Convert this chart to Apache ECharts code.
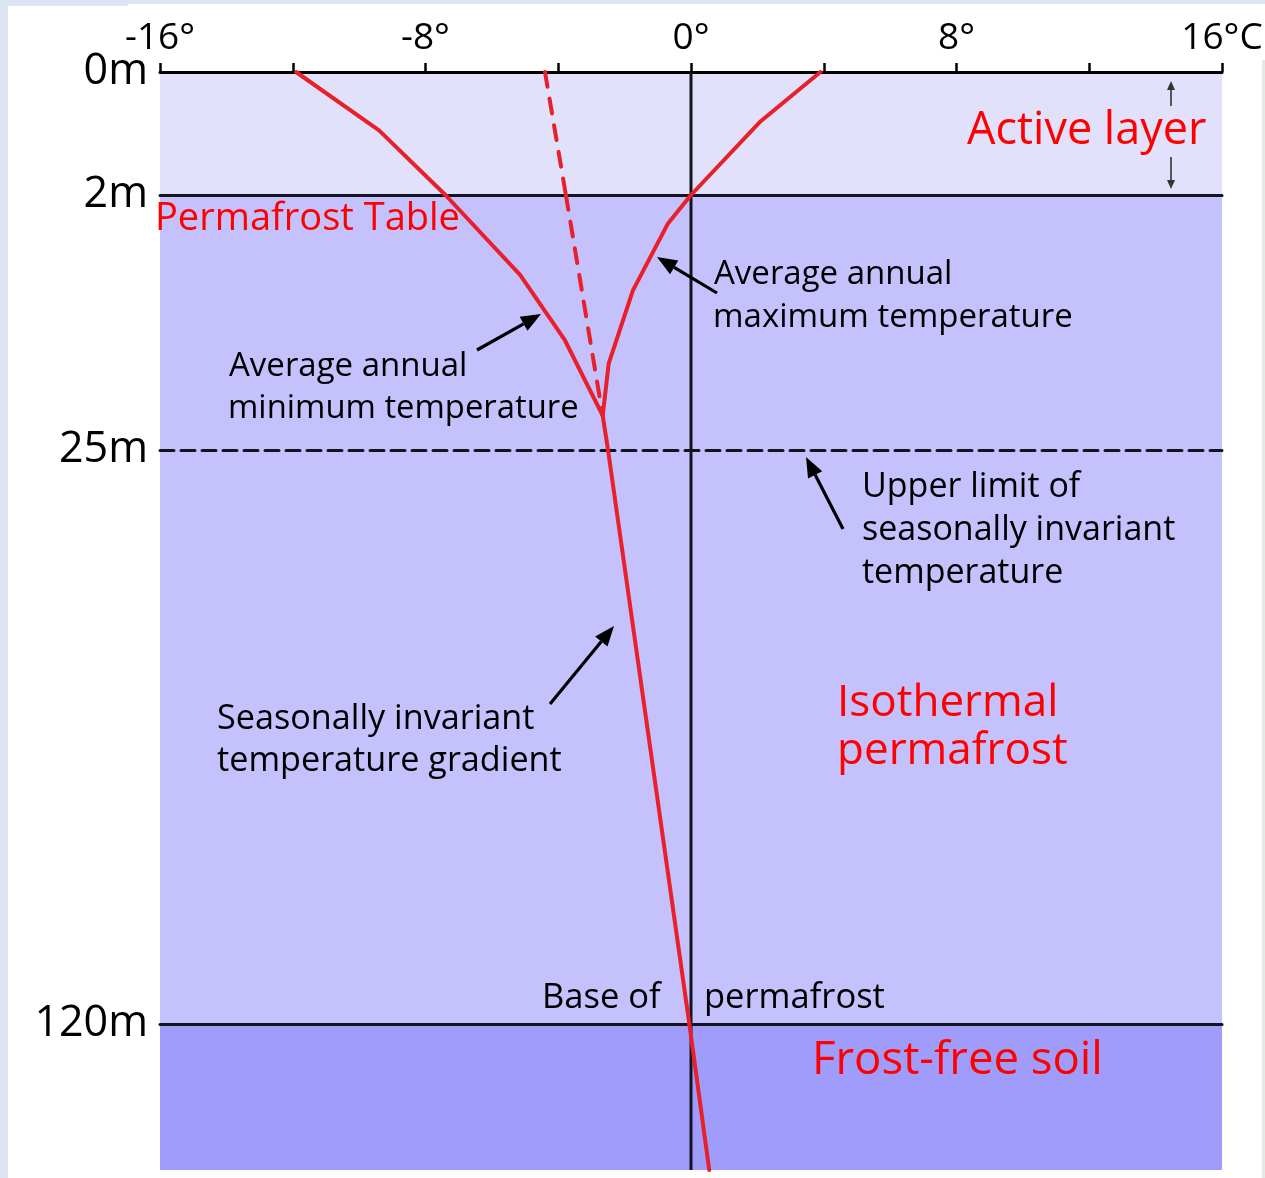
<!DOCTYPE html>
<html>
<head>
<meta charset="utf-8">
<script src="https://cdn.jsdelivr.net/npm/echarts@6/dist/echarts.min.js"></script>
<style>
html,body{margin:0;padding:0;background:#ffffff;}
#chart{width:1265px;height:1178px;}
</style>
</head>
<body>
<div id="chart"></div>
<script>
// ---------- data (temperature in °C, depth in m) ----------
const tempTicks = [-16, -8, 0, 8, 16];
const depthLabels = [0, 2, 25, 120];
const depthBottom = 144.2;

const maxTempC   = [3.9, 2.1, 0, -0.7, -1.75, -2.48, -2.66];
const maxDepthM  = [0, 0.8, 2, 4.6, 10.6, 17.2, 21.9];

const minTempC   = [-11.9, -9.4, -7.4, -5.15, -3.8, -2.66];
const minDepthM  = [0, 0.95, 2, 9.2, 15.1, 21.9];

const meanTempC  = [-4.4, -3.77, -2.66];
const meanDepthM = [0, 2, 21.9];

const gradTempC  = [-2.66, -2.5, -0.05, 0.55];
const gradDepthM = [21.9, 25, 120, 144.2];

// ---------- layout ----------
const FONT = '"Open Sans", "DejaVu Sans", sans-serif';
const RED = '#e8202a';
const INK = '#141420';
const plotLeft = 160, plotRight = 43;
const bands = [
  {min: 0,   max: 2,     top: 72,   height: 123, color: '#e1e1fb'},
  {min: 2,   max: 25,    top: 195,  height: 255, color: '#c4c1fc'},
  {min: 25,  max: 120,   top: 450,  height: 574, color: '#c4c1fc'},
  {min: 120, max: depthBottom, top: 1024, height: 146, color: '#a09cfc'}
];

const chart = echarts.init(document.getElementById('chart'), null, {renderer: 'canvas'});

const grids = [], xAxes = [], yAxes = [], series = [];

function pick(temps, depths, b) {
  const out = [];
  for (let i = 0; i < temps.length; i++) {
    if (depths[i] >= b.min && depths[i] <= b.max) out.push([temps[i], depths[i]]);
  }
  return out;
}

bands.forEach((b, i) => {
  grids.push({left: plotLeft, right: plotRight, top: b.top, height: b.height,
    outerBoundsMode: 'none', containLabel: false,
    show: true, backgroundColor: b.color, borderWidth: 0});
  xAxes.push({type: 'value', gridIndex: i, min: -16, max: 16, interval: 4, position: 'top',
    splitLine: {show: false},
    axisLine: {show: true, lineStyle: {color: i === 0 ? '#000' : INK, width: 3,
      type: i === 2 ? [14, 7] : 'solid'}},
    axisTick: {show: i === 0, length: 9, lineStyle: {color: '#000', width: 2.5}},
    axisLabel: {show: i === 0, margin: 15, fontFamily: FONT, fontSize: 37, color: '#000',
      hideOverlap: false,
      formatter: v => tempTicks.indexOf(v) < 0 ? '' : (v === 16 ? '16°C' : v + '°')}
  });
  yAxes.push({type: 'value', gridIndex: i, inverse: true, min: b.min, max: b.max,
    interval: b.max - b.min,
    splitLine: {show: false}, axisLine: {show: false}, axisTick: {show: false},
    axisLabel: {show: i < 3, showMinLabel: true, showMaxLabel: true, margin: 12,
      fontFamily: FONT, fontSize: 43, color: '#000',
      formatter: v => (depthLabels.indexOf(v) >= 0 && (i === 0 || v === b.max)) ? v + 'm' : ''}
  });
  // zero-degree vertical line
  series.push({type: 'line', xAxisIndex: i, yAxisIndex: i, data: [[0, b.min], [0, b.max]],
    showSymbol: false, clip: false, z: 2, silent: true,
    lineStyle: {color: INK, width: 3}});
  const lines = [
    [maxTempC, maxDepthM, 'solid'],
    [minTempC, minDepthM, 'solid'],
    [meanTempC, meanDepthM, [15, 12]],
    [gradTempC, gradDepthM, 'solid']
  ];
  lines.forEach(([t, d, type]) => {
    const data = pick(t, d, b);
    if (data.length >= 2) {
      series.push({type: 'line', xAxisIndex: i, yAxisIndex: i, data,
        showSymbol: false, clip: false, z: 4, silent: true,
        lineStyle: {color: RED, width: 4, type, cap: 'round', join: 'round'}});
    }
  });
});

// ---------- annotations ----------
function arrow(x1, y1, x2, y2, opt) {
  opt = opt || {};
  const len = opt.len || 20, hw = opt.hw || 8, w = opt.w || 3.2, c = opt.color || '#000';
  const dx = x2 - x1, dy = y2 - y1, L = Math.hypot(dx, dy);
  const ux = dx / L, uy = dy / L;
  const bx = x2 - ux * len, by = y2 - uy * len;
  return [
    {type: 'line', z: 50, shape: {x1, y1, x2: bx, y2: by}, style: {stroke: c, lineWidth: w}},
    {type: 'polygon', z: 50, shape: {points: [[x2, y2], [bx - uy * hw, by + ux * hw], [bx + uy * hw, by - ux * hw]]},
      style: {fill: c}}
  ];
}
function txt(text, x, y, size, color) {
  return {type: 'text', z: 60, style: {text, x, y, fill: color || '#000',
    font: size + 'px ' + FONT, textVerticalAlign: 'middle', textAlign: 'left'}};
}

const graphic = [
  {type: 'rect', z: -5, shape: {x: 0, y: 0, width: 8, height: 1178}, style: {fill: '#dce4f1'}},
  {type: 'rect', z: -5, shape: {x: 0, y: 0, width: 1265, height: 4}, style: {fill: '#dce4f1'}},
  {type: 'rect', z: -5, shape: {x: 0, y: 0, width: 128, height: 6}, style: {fill: '#dce4f1'}},
  {type: 'rect', z: -5, shape: {x: 1262, y: 60, width: 3, height: 1118}, style: {fill: '#e3ebe4'}},
  txt('Active layer', 967, 131, 45, '#ff0000'),
  txt('Permafrost Table', 155, 219, 38, '#ff0000'),
  txt('Average annual', 229, 367, 33),
  txt('minimum temperature', 228, 409, 32.8),
  txt('Average annual', 714, 275, 33),
  txt('maximum temperature', 713, 318, 33),
  txt('Upper limit of', 862, 487, 34),
  txt('seasonally invariant', 862, 530, 34),
  txt('temperature', 862, 573, 34),
  txt('Seasonally invariant', 217, 719, 34.2),
  txt('temperature gradient', 217, 761, 34.2),
  txt('Isothermal', 837, 703, 44, '#ff0000'),
  txt('permafrost', 837, 751, 44, '#ff0000'),
  txt('Base of', 542, 998, 34.5),
  txt('permafrost', 704, 998, 34.5),
  txt('Frost-free soil', 812, 1061, 45.5, '#ff0000')
].concat(
  arrow(477, 350, 541, 314),
  arrow(717, 293, 657, 257),
  arrow(843, 529, 806, 457),
  arrow(550, 704, 614, 626),
  arrow(1171, 106, 1171, 81, {len: 9, hw: 4, w: 1.6, color: '#333'}),
  arrow(1171, 157, 1171, 189, {len: 9, hw: 4, w: 1.6, color: '#333'})
);

chart.setOption({
  animation: false,
  backgroundColor: '#ffffff',
  grid: grids,
  xAxis: xAxes,
  yAxis: yAxes,
  series,
  graphic
});
</script>
</body>
</html>
